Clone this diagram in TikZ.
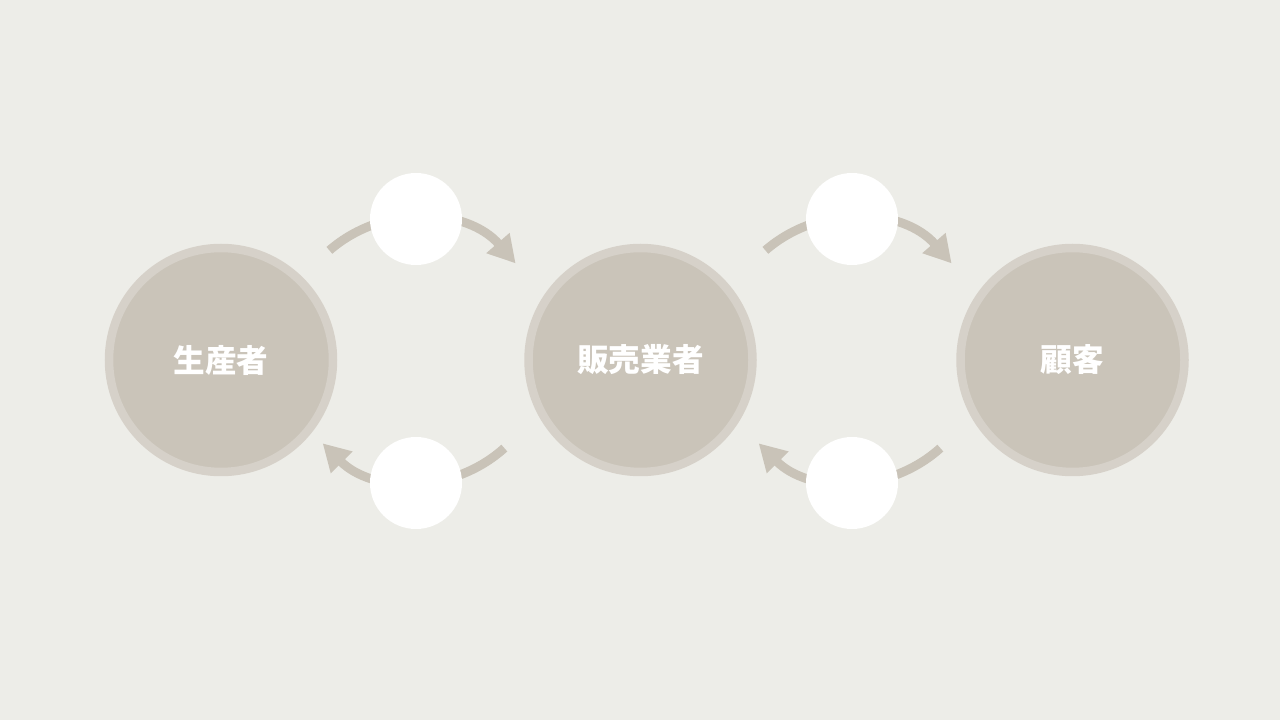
\documentclass[tikz,border=0pt]{standalone}
\usepackage{fontspec}
\newfontfamily\cjk{Noto Sans CJK JP}
\usetikzlibrary{positioning,arrows.meta}
\definecolor{bgcolor}{HTML}{EDEDE8}
\definecolor{ringcolor}{HTML}{D6D1C9}
\definecolor{fillcolor}{HTML}{CAC4B9}
\definecolor{arrowcolor}{HTML}{C9C3B8}

\begin{document}
\begin{tikzpicture}[
    actor/.style={circle, draw=ringcolor, fill=fillcolor, line width=0.17cm, minimum size=4.48cm, inner sep=0pt, text=white, font=\cjk\bfseries\fontsize{18pt}{18pt}\selectfont},
    token/.style={circle, fill=white, minimum size=1.84cm, inner sep=0pt},
    flow/.style={draw=arrowcolor, line width=0.18cm, -{Triangle[length=0.54cm, width=0.58cm]}},
    on grid]

    \fill[bgcolor] (0,0) rectangle (25.6,14.4);
    \useasboundingbox (0,0) rectangle (25.6,14.4);

    \node[actor] (producer) at (4.42,7.2) {生産者};
    \node[actor, right=8.39cm of producer] (seller) {販売業者};
    \node[actor, right=8.64cm of seller] (customer) {顧客};

    \coordinate (hubA) at (8.32,7.4);
    \coordinate (hubB) at (17.04,7.4);

    \coordinate (outA) at ([shift={(131:2.64)}]hubA);
    \coordinate (retA) at ([shift={(-48:2.64)}]hubA);
    \coordinate (outB) at ([shift={(131:2.64)}]hubB);
    \coordinate (retB) at ([shift={(-48:2.64)}]hubB);

    \draw[flow] (outA) arc[start angle=131, end angle=41, radius=2.64cm];
    \draw[flow] (retA) arc[start angle=-48, end angle=-135, radius=2.64cm];
    \draw[flow] (outB) arc[start angle=131, end angle=41, radius=2.64cm];
    \draw[flow] (retB) arc[start angle=-48, end angle=-135, radius=2.64cm];

    \node[token] (payA) at ([yshift=2.62cm]hubA) {};
    \node[token] (goodsA) at ([yshift=-2.66cm]hubA) {};
    \node[token] (payB) at ([yshift=2.62cm]hubB) {};
    \node[token] (goodsB) at ([yshift=-2.66cm]hubB) {};
\end{tikzpicture}
\end{document}
